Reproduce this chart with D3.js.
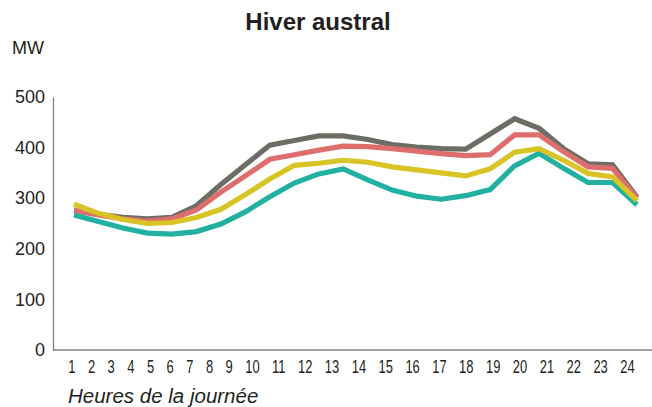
<!DOCTYPE html>
<html>
<head>
<meta charset="utf-8">
<script src="https://cdn.jsdelivr.net/npm/d3@7/dist/d3.min.js"></script>
<style>
  html, body { margin: 0; padding: 0; background: #fff; }
  svg { display: block; }
  text { font-family: "Liberation Sans", Arial, sans-serif; fill: #231f20; }
</style>
</head>
<body>
<svg id="chart" width="652" height="407"></svg>
<script>
// ---- data ----
const hours = d3.range(1, 25);
const hourLabels = hours.map(String);
const yTicks = [0, 100, 200, 300, 400, 500];
const seriesNames = ["gris", "rouge", "turquoise", "jaune"];
const grayValues      = [276, 268, 262, 259, 262, 285, 327, 366, 405, 414, 423, 423, 416, 406, 401, 398, 397, 427, 457, 438, 398, 368, 366, 302];
const redValues       = [276, 267, 259, 255, 259, 277, 312, 344, 377, 386, 395, 403, 402, 398, 393, 388, 384, 386, 425, 425, 392, 362, 359, 300];
const turquoiseValues = [267, 254, 241, 231, 229, 234, 249, 273, 303, 330, 348, 358, 336, 316, 304, 298, 305, 317, 364, 389, 359, 331, 331, 287];
const yellowValues    = [288, 270, 258, 250, 252, 262, 278, 307, 338, 365, 369, 375, 371, 362, 356, 350, 344, 358, 391, 398, 375, 349, 342, 295];
const seriesColors = ["#6c6e65", "#de6e6e", "#22b0a1", "#d8c425"];

const series = [grayValues, redValues, turquoiseValues, yellowValues].map((vals, i) => ({
  name: seriesNames[i], color: seriesColors[i], values: vals
}));

// ---- layout ----
const W = 652, H = 407;
const plot = { left: 53, right: 652, top: 98, bottom: 350 };

const svg = d3.select("#chart");

const x = d3.scaleLinear().domain([1, 24]).range([74, 637]);
const y = d3.scaleLinear().domain([0, 500]).range([plot.bottom, 97]);

// title
svg.append("text")
  .attr("x", 318).attr("y", 30)
  .attr("text-anchor", "middle")
  .style("font-size", "24px").style("font-weight", "bold")
  .text("Hiver austral");

// unit
svg.append("text")
  .attr("x", 12).attr("y", 54)
  .style("font-size", "18px")
  .text("MW");

// y axis
const yAxis = d3.axisLeft(y).tickValues(yTicks).tickSize(0).tickPadding(8).tickFormat(d3.format("d"));
const gy = svg.append("g").attr("transform", `translate(${plot.left},0)`).call(yAxis);
gy.select(".domain").attr("stroke", "#808080").attr("stroke-width", 1.3);
gy.selectAll("text").style("font-size", "18px").style("font-family", "'Liberation Sans', Arial, sans-serif").attr("fill", "#231f20");

// x baseline
svg.append("line")
  .attr("x1", plot.left).attr("x2", plot.right)
  .attr("y1", plot.bottom).attr("y2", plot.bottom)
  .attr("stroke", "#808080").attr("stroke-width", 1.3);

// x tick labels (typeset as a row)
svg.append("text")
  .attr("transform", "translate(68.3,373) scale(0.72,1)")
  .style("font-size", "18px")
  .style("word-spacing", "12.3px")
  .attr("xml:space", "preserve")
  .text(hourLabels.join(" "));

// x axis title
svg.append("text")
  .attr("x", 68).attr("y", 403)
  .style("font-size", "20.5px").style("font-style", "italic")
  .text("Heures de la journée");

// lines
const line = d3.line()
  .x((d, i) => x(hours[i]))
  .y(d => y(d))
  .curve(d3.curveLinear);

svg.append("g").selectAll("path")
  .data(series)
  .join("path")
  .attr("d", d => line(d.values))
  .attr("fill", "none")
  .attr("stroke", d => d.color)
  .attr("stroke-width", 5.2)
  .attr("stroke-linejoin", "miter");
</script>
</body>
</html>
